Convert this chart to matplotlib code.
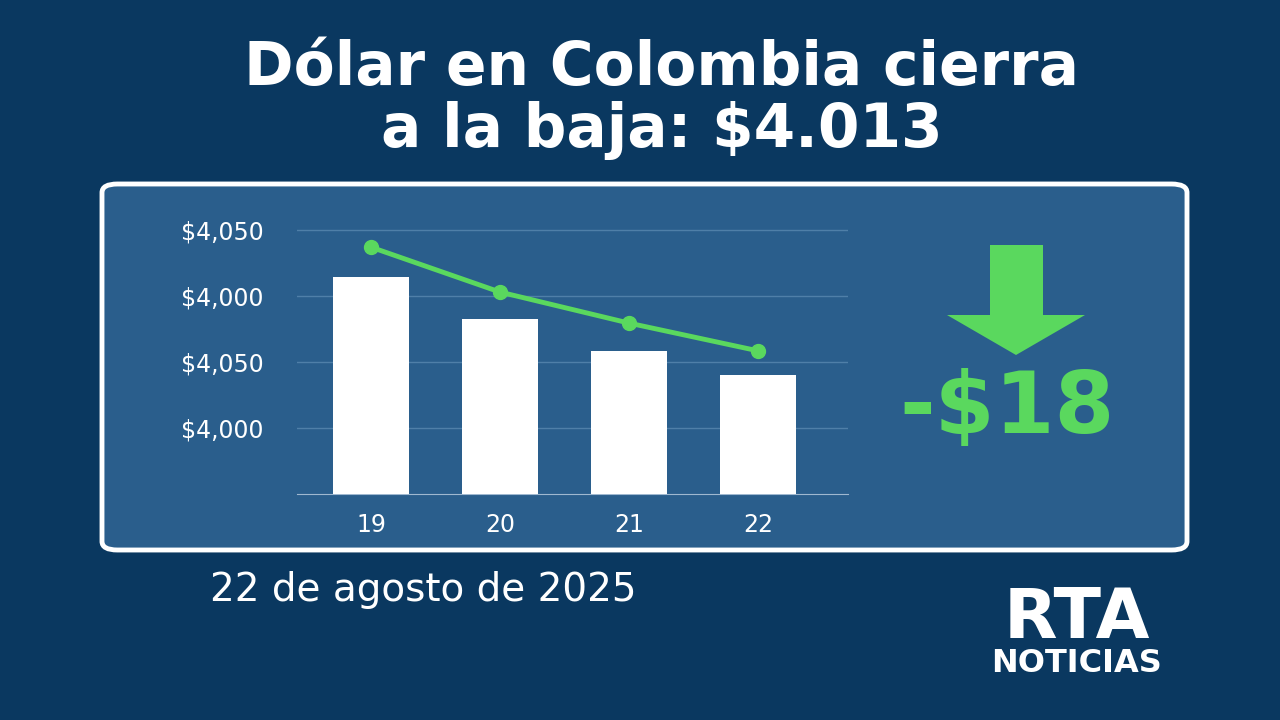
import matplotlib
matplotlib.use("Agg")
import matplotlib.pyplot as plt
from matplotlib.patches import FancyBboxPatch, Polygon

days = ["19", "20", "21", "22"]
bar_vals = [3.29, 2.65, 2.17, 1.80]
line_vals = [3.74, 3.06, 2.59, 2.17]
tick_pos = [1, 2, 3, 4]
tick_labels = ["$4,000", "$4,050", "$4,000", "$4,050"]

BG = "#0a3860"
PANEL = "#2a5e8c"
GREEN = "#5ad85e"

fig = plt.figure(figsize=(12.8, 7.2), dpi=100)
fig.patch.set_facecolor(BG)

def px(x, y):
    return x / 1280, 1 - y / 720

p = FancyBboxPatch(px(102, 550), 1085/1280, 366/720, boxstyle="round,pad=0,rounding_size=0.012",
                   transform=fig.transFigure, facecolor=PANEL, edgecolor="white", linewidth=3.5)
fig.patches.append(p)

fig.text(662/1280, 1-68/720, "Dólar en Colombia cierra", color="white", fontsize=43,
         fontweight="bold", ha="center", va="center")
fig.text(662/1280, 1-130/720, "a la baja: $4.013", color="white", fontsize=43,
         fontweight="bold", ha="center", va="center")

ax = fig.add_axes([297/1280, 1-494/720, (848-297)/1280, (494-216.8)/720], zorder=3)
ax.set_facecolor("none")
x = list(range(len(days)))
ax.bar(x, bar_vals, width=0.59, color="white", zorder=3)
ax.plot(x, line_vals, color=GREEN, lw=3.5, marker="o", ms=10, zorder=4)
ax.set_xlim(-0.574, 3.70)
ax.set_ylim(0, 4.2)
ax.set_yticks(tick_pos)
ax.set_yticklabels(tick_labels)
ax.set_xticks(x)
ax.set_xticklabels(days)
ax.grid(axis="y", color="#4f7fa8", lw=1, zorder=0)
for s in ["top", "right", "left"]:
    ax.spines[s].set_visible(False)
ax.spines["bottom"].set_color("#9fb8d0")
ax.tick_params(colors="white", labelsize=17, length=0, pad=14)
ax.tick_params(axis="y", pad=24)

arrow = Polygon([px(990, 245), px(1043, 245), px(1043, 315), px(1085, 315),
                 px(1016, 355), px(947, 315), px(990, 315)],
                closed=True, transform=fig.transFigure, facecolor=GREEN, edgecolor="none")
fig.patches.append(arrow)
fig.text(1007/1280, 1-410/720, "-$18", color=GREEN, fontsize=62, fontweight="bold",
         ha="center", va="center")

fig.text(210/1280, 1-590/720, "22 de agosto de 2025", color="white", fontsize=28,
         ha="left", va="center")
fig.text(1077/1280, 1-618/720, "RTA", color="white", fontsize=50, fontweight="bold",
         ha="center", va="center")
fig.text(1077/1280, 1-664/720, "NOTICIAS", color="white", fontsize=23, fontweight="bold",
         ha="center", va="center")

fig.savefig("out.png", dpi=100, facecolor=BG)
